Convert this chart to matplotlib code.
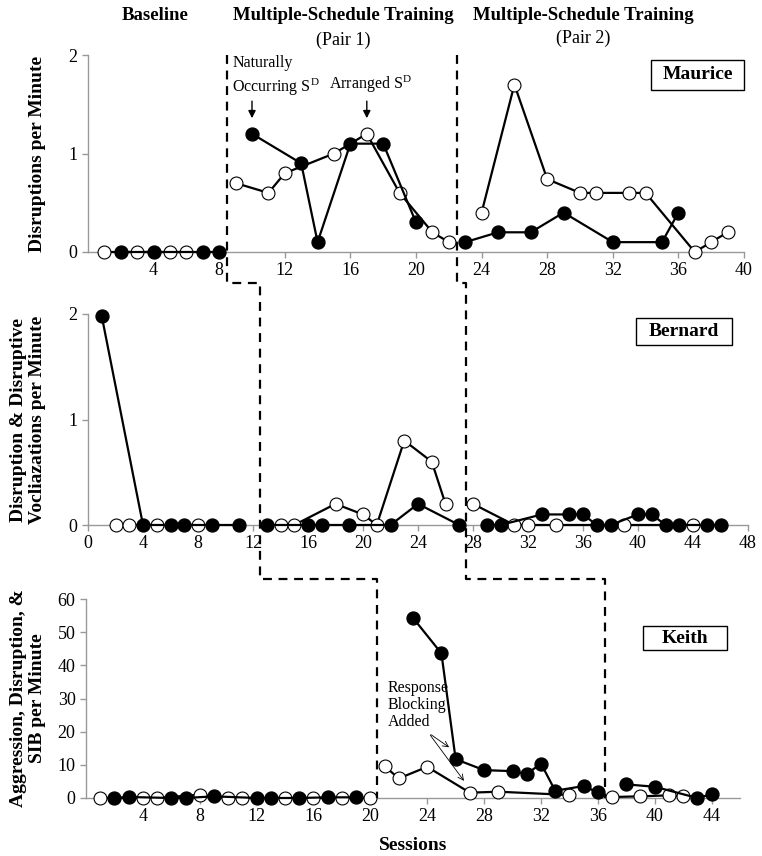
import matplotlib
matplotlib.use("Agg")
import matplotlib.pyplot as plt
from matplotlib.lines import Line2D
from matplotlib.patches import Rectangle

plt.rcParams['font.family'] = ['Liberation Serif', 'DejaVu Serif']
plt.rcParams['mathtext.fontset'] = 'stix'

# ---- Maurice ----
m_open_x = [1, 3, 5, 6]
m_open_y = [0, 0, 0, 0]
m_fill_x = [2, 4, 7, 8]
m_fill_y = [0, 0, 0, 0]
m_p1_open_x = [9, 11, 12, 15, 17, 19, 21, 22]
m_p1_open_y = [0.7, 0.6, 0.8, 1.0, 1.2, 0.6, 0.2, 0.1]
m_p1_fill_x = [10, 13, 14, 16, 18, 20]
m_p1_fill_y = [1.2, 0.9, 0.1, 1.1, 1.1, 0.3]
m_p2_open_x = [24, 26, 28, 30, 31, 33, 34, 37, 38, 39]
m_p2_open_y = [0.4, 1.7, 0.74, 0.6, 0.6, 0.6, 0.6, 0.0, 0.1, 0.2]
m_p2_fill_x = [23, 25, 27, 29, 32, 35, 36]
m_p2_fill_y = [0.1, 0.2, 0.2, 0.4, 0.1, 0.1, 0.4]

# ---- Bernard ----
b_open_x = [2, 3, 5, 8]
b_open_y = [0, 0, 0, 0]
b_fill_x = [1, 4, 6, 7, 9, 11]
b_fill_y = [1.98, 0, 0, 0, 0, 0]
b_p1_open_x = [14, 15, 18, 20, 21, 23, 25, 26]
b_p1_open_y = [0, 0, 0.2, 0.1, 0, 0.8, 0.6, 0.2]
b_p1_fill_x = [13, 16, 17, 19, 22, 24, 27]
b_p1_fill_y = [0, 0, 0, 0, 0, 0.2, 0]
b_p2_open_x = [28, 31, 32, 34, 39, 44]
b_p2_open_y = [0.2, 0, 0, 0, 0, 0]
b_p2_fill_x = [29, 30, 33, 35, 36, 37, 38, 40, 41, 42, 43, 45, 46]
b_p2_fill_y = [0, 0, 0.1, 0.1, 0.1, 0, 0, 0.1, 0.1, 0, 0, 0, 0]

# ---- Keith ----
k_open_x = [1, 4, 5, 8, 10, 11, 14, 16, 18, 20]
k_open_y = [0, 0, 0, 1.0, 0, 0, 0, 0, 0, 0]
k_fill_x = [2, 3, 6, 7, 9, 12, 13, 15, 17, 19]
k_fill_y = [0, 0.3, 0, 0, 0.5, 0, 0, 0, 0.2, 0.2]
k_p1_open_x = [21, 22, 24, 27, 29, 34]
k_p1_open_y = [9.6, 5.9, 9.4, 1.6, 1.9, 0.9]
k_p1_fill_x = [23, 25, 26, 28, 30, 31, 32, 33, 35, 36]
k_p1_fill_y = [54.3, 43.6, 11.7, 8.4, 8.1, 7.2, 10.4, 2.2, 3.6, 1.7]
k_p2_open_x = [37, 39, 41, 42]
k_p2_open_y = [0.3, 0.5, 0.8, 0.5]
k_p2_fill_x = [38, 40, 43, 44]
k_p2_fill_y = [4.1, 3.4, 0.0, 1.1]

W, H = 762, 856
fig = plt.figure(figsize=(W / 100, H / 100), dpi=100)


def px_axes(left, right, bottom, top):
    return fig.add_axes([left / W, 1 - bottom / H, (right - left) / W, (bottom - top) / H])


def style(ax, xlim, ylim, xticks, yticks):
    ax.set_xlim(*xlim)
    ax.set_ylim(*ylim)
    ax.set_xticks(xticks)
    ax.set_yticks(yticks)
    for s in ['top', 'right']:
        ax.spines[s].set_visible(False)
    for s in ['left', 'bottom']:
        ax.spines[s].set_color('#999999')
        ax.spines[s].set_linewidth(1)
    ax.tick_params(colors='#999999', labelcolor='black', labelsize=13, length=4, width=1)
    ax.tick_params(axis='x', direction='out')


def series(ax, x, y, filled):
    if filled:
        ax.plot(x, y, color='black', lw=1.6, marker='o', ms=9.3, mfc='black', mec='black',
                clip_on=False, zorder=4)
    else:
        ax.plot(x, y, color='black', lw=1.6, marker='o', ms=9.3, mfc='white', mec='black',
                mew=0.8, clip_on=False, zorder=3)


def namebox(ax, x0, x1, y0, y1, name):
    ax.add_patch(Rectangle((x0, y0), x1 - x0, y1 - y0, transform=ax.transAxes,
                           fc='white', ec='black', lw=1, clip_on=False, zorder=5))
    ax.text((x0 + x1) / 2, (y0 + y1) / 2, name, transform=ax.transAxes, ha='center',
            va='center', fontsize=14, fontweight='bold', zorder=6)


# Top panel
ax1 = px_axes(88, 744, 252, 55)
style(ax1, (0, 40), (0, 2), range(4, 41, 4), [0, 1, 2])
series(ax1, m_open_x, m_open_y, False)
series(ax1, m_fill_x, m_fill_y, True)
series(ax1, m_p1_open_x, m_p1_open_y, False)
series(ax1, m_p1_fill_x, m_p1_fill_y, True)
series(ax1, m_p2_open_x, m_p2_open_y, False)
series(ax1, m_p2_fill_x, m_p2_fill_y, True)
namebox(ax1, 0.858, 1.0, 0.822, 0.975, 'Maurice')
ax1.text(8.8, 1.78, 'Naturally\nOccurring S$^\\mathregular{D}$', fontsize=11.5, ha='left', va='center',
         linespacing=1.4)
ax1.text(14.7, 1.7, 'Arranged S$^\\mathregular{D}$', fontsize=11.5, ha='left', va='center')
for ax_x in [10, 17]:
    ax1.annotate('', xy=(ax_x, 1.33), xytext=(ax_x, 1.56),
                 arrowprops=dict(arrowstyle='-|>', color='black', lw=1, mutation_scale=11))
ax1.set_ylabel('Disruptions per Minute', fontsize=14, fontweight='bold', labelpad=16)

# Middle panel
ax2 = px_axes(88, 748, 525, 314)
style(ax2, (0, 48), (0, 2), range(0, 49, 4), [0, 1, 2])
series(ax2, b_open_x, b_open_y, False)
series(ax2, b_fill_x, b_fill_y, True)
series(ax2, b_p1_open_x, b_p1_open_y, False)
series(ax2, b_p1_fill_x, b_p1_fill_y, True)
series(ax2, b_p2_open_x, b_p2_open_y, False)
series(ax2, b_p2_fill_x, b_p2_fill_y, True)
namebox(ax2, 0.830, 0.976, 0.853, 0.981, 'Bernard')
ax2.set_ylabel('Disruption & Disruptive\nVocliazations per Minute', fontsize=14,
               fontweight='bold', labelpad=16)

# Bottom panel
ax3 = px_axes(86, 740, 798, 599)
style(ax3, (0, 46), (0, 60), range(4, 45, 4), range(0, 61, 10))
series(ax3, k_open_x, k_open_y, False)
series(ax3, k_fill_x, k_fill_y, True)
series(ax3, k_p1_open_x, k_p1_open_y, False)
series(ax3, k_p1_fill_x, k_p1_fill_y, True)
series(ax3, k_p2_open_x, k_p2_open_y, False)
series(ax3, k_p2_fill_x, k_p2_fill_y, True)
namebox(ax3, 0.852, 0.980, 0.744, 0.864, 'Keith')
ax3.text(21.2, 28, 'Response\nBlocking\nAdded', fontsize=11.5, ha='left', va='center',
         linespacing=1.1)
for tgt in [(25.7, 14.8), (26.7, 4.5)]:
    ax3.annotate('', xy=tgt, xytext=(24.1, 19.6),
                 arrowprops=dict(arrowstyle='->', color='black', lw=0.6, mutation_scale=10))
ax3.set_ylabel('Aggression, Disruption, &\nSIB per Minute', fontsize=14, fontweight='bold',
               labelpad=8)
ax3.set_xlabel('Sessions', fontsize=14, fontweight='bold', labelpad=8)

# Phase labels
fig.text(155 / W, 1 - 16 / H, 'Baseline', fontsize=13.5, fontweight='bold', ha='center', va='center')
fig.text(343 / W, 1 - 16 / H, 'Multiple-Schedule Training', fontsize=13.5, fontweight='bold',
         ha='center', va='center')
fig.text(343 / W, 1 - 40 / H, '(Pair 1)', fontsize=13, ha='center', va='center')
fig.text(583 / W, 1 - 16 / H, 'Multiple-Schedule Training', fontsize=13.5, fontweight='bold',
         ha='center', va='center')
fig.text(583 / W, 1 - 38 / H, '(Pair 2)', fontsize=13, ha='center', va='center')


# Phase change lines (stepped across panels)
def to_fig(ax, x, y):
    return fig.transFigure.inverted().transform(ax.transData.transform((x, y)))


gap1 = 1 - 283 / H
gap2 = 1 - 579 / H
for (x_top, x_mid, x_bot) in [(8.5, 12.5, 20.5), (22.5, 27.5, 36.5)]:
    p0 = to_fig(ax1, x_top, 2.0)
    p1 = to_fig(ax2, x_mid, 0)
    p2 = to_fig(ax3, x_bot, 0)
    xs = [p0[0], p0[0], p1[0], p1[0], p2[0], p2[0]]
    ys = [p0[1], gap1, gap1, gap2, gap2, p2[1]]
    fig.add_artist(Line2D(xs, ys, transform=fig.transFigure, color='black', lw=1.6,
                          linestyle=(0, (4, 3))))

fig.savefig('out.png', dpi=100)
